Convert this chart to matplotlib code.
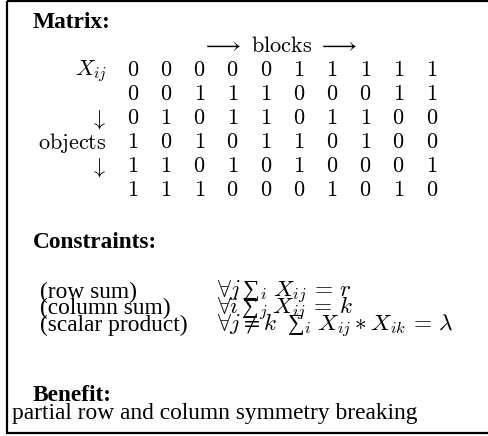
import matplotlib
matplotlib.use("Agg")
import matplotlib.pyplot as plt
from matplotlib.patches import Rectangle

plt.rcParams['font.family'] = ['Liberation Serif', 'DejaVu Serif']
plt.rcParams['mathtext.fontset'] = 'cm'

# Daten der Abbildung
matrix = [
    [0, 0, 0, 0, 0, 1, 1, 1, 1, 1],
    [0, 0, 1, 1, 1, 0, 0, 0, 1, 1],
    [0, 1, 0, 1, 1, 0, 1, 1, 0, 0],
    [1, 0, 1, 0, 1, 1, 0, 1, 0, 0],
    [1, 1, 0, 1, 0, 1, 0, 0, 0, 1],
    [1, 1, 1, 0, 0, 0, 1, 0, 1, 0],
]
row_labels = [r'$X_{ij}$', '', r'$\downarrow$', r'$\mathrm{objects}$', r'$\downarrow$', '']
col_header = r'$\longrightarrow\ \mathrm{blocks}\ \longrightarrow$'
constraint_names = ['(row sum)', '(column sum)', '(scalar product)']
# das Summenzeichen als normaler Text (Textgröße wie im LaTeX-Original)
constraint_formulas = [
    r'$\forall j\,$∑${}_i\; X_{ij}\, =\, r$',
    r'$\forall i\,$∑${}_j\; X_{ij}\, =\, k$',
    r'$\forall j \neq k\;\;$∑${}_i\; X_{ij} * X_{ik}\, =\, \lambda$',
]
benefit = 'partial row and column symmetry breaking'

fs = 16.8
fs_num = 16

fig = plt.figure(figsize=(4.89, 4.36), dpi=100)
ax = fig.add_axes([0, 0, 1, 1])
ax.set_xlim(0, 489)
ax.set_ylim(436, 0)
ax.axis('off')

# Rahmen
ax.add_patch(Rectangle((7, 1.5), 490, 431.5, fill=False, lw=1.6, ec='black'))

ax.text(33, 22, 'Matrix:', fontsize=fs, fontweight='bold', va='center', ha='left')
ax.text(280, 47, col_header, fontsize=fs_num, va='center', ha='center')

x0, dx = 133, 33.2
y0, dy = 71, 24
for r, row in enumerate(matrix):
    y = y0 + r * dy
    if row_labels[r]:
        ax.text(107, y, row_labels[r], fontsize=fs_num, va='center', ha='right')
    for c, v in enumerate(row):
        ax.text(x0 + c * dx, y, f'${v}$', fontsize=fs_num, va='center', ha='center')

ax.text(33, 242, 'Constraints:', fontsize=fs, fontweight='bold', va='center', ha='left')
for k, (name, formula) in enumerate(zip(constraint_names, constraint_formulas)):
    y = 292 + k * 16.8
    ax.text(40, y, name, fontsize=fs, va='center', ha='left')
    ax.text(217, y, formula, fontsize=16.8, va='center', ha='left')

ax.text(33, 395, 'Benefit:', fontsize=fs, fontweight='bold', va='center', ha='left')
ax.text(12, 413, benefit, fontsize=fs, va='center', ha='left')

fig.savefig('out.png', dpi=100)
